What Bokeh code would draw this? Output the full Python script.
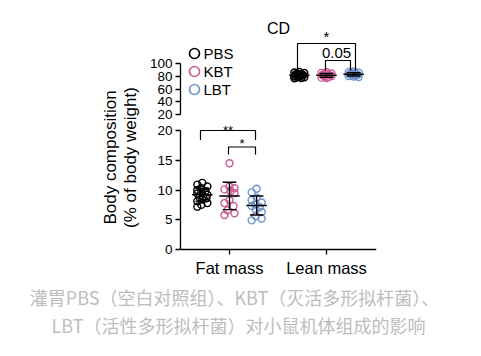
import math
from bokeh.plotting import figure
from bokeh.layouts import row, column
from bokeh.models import Range1d, LinearAxis, FixedTicker
from bokeh.core.properties import value
from bokeh.embed import file_html
from bokeh.resources import INLINE

# ---------------- data ----------------
categories = ["Fat mass", "Lean mass"]
groups = ["PBS", "KBT", "LBT"]
colors = ["#000000", "#cc5a96", "#6b93c8"]

fat_pbs = [11.2, 10.9, 10.6, 10.3, 10.0, 9.8, 9.6, 9.4, 9.2, 9.0, 8.8, 8.6, 8.4, 8.1, 7.8, 7.5, 7.2]
fat_kbt = [14.5, 10.6, 10.3, 10.1, 9.8, 9.5, 8.3, 7.8, 7.3, 6.6, 6.1, 5.8]
fat_lbt = [10.2, 9.6, 8.7, 8.3, 7.9, 7.6, 7.3, 7.1, 6.8, 6.3, 5.6, 5.2, 4.9]
fat_mean = [9.2, 9.0, 7.4]
fat_sd = [1.1, 2.3, 1.6]

lean_pbs = [86.5, 85.5, 84.8, 84.0, 83.2, 82.5, 82.0, 81.5, 81.0, 80.4, 79.8, 79.0, 78.3, 77.6, 77.0, 76.5]
lean_kbt = [86.0, 85.0, 84.0, 83.2, 82.4, 81.6, 80.8, 80.0, 79.2, 78.4, 77.6, 77.0]
lean_lbt = [87.0, 86.2, 85.4, 84.7, 84.0, 83.4, 82.8, 82.2, 81.6, 80.9, 80.2, 79.4, 78.6]
lean_mean = [81.4, 81.3, 82.8]
lean_sd = [3.1, 3.0, 2.6]

low_ticks = [0, 5, 10, 15, 20]
up_ticks = [20, 40, 60, 80, 100]

fat_stars = ["**", "*"]
lean_stars = ["*", "0.05"]
title_text = "CD"
axis_label_lines = ["Body composition", "(% of body weight)"]
caption_lines = ["灌胃PBS（空白对照组）、KBT（灭活多形拟杆菌）、",
                 "LBT（活性多形拟杆菌）对小鼠机体组成的影响"]

# ---------------- layout (page pixels) ----------------
W, H = 481, 356
LABW = 140                 # width of the strip holding the y-axis title
FL, FR = 180, 376          # plot frame left / right
SPLIT = 122                # boundary between upper and lower panels
FB = 255                   # lower frame bottom (x axis at 249)
ROWH = 285                 # height of the chart row; caption below
PX_X = 97.0                # pixels per category
x0 = -(229 - FL) / PX_X
x1 = x0 + (FR - FL) / PX_X
k_low = (249 - 130) / 20.0        # px per unit, lower segment (0 at y=249)
k_up = (114.3 - 62.7) / 80.0      # px per unit, upper segment (20 at y=114.3)
GOFF = 0.28                       # group offset in category units
FONT = "Liberation Sans"
TICK_FS = "13.5px"

low_start = -(FB - 249) / k_low
low_end = low_start + (FB - SPLIT) / k_low
up_start = 20 - (SPLIT - 114.3) / k_up
up_end = up_start + SPLIT / k_up


def X(px):
    return x0 + (px - FL) / PX_X


def YL(py):
    return (249 - py) / k_low


def YU(py):
    return up_start + (SPLIT - py) / k_up


def base_fig(w, h, xr, yr, **kw):
    f = figure(width=w, height=h, output_backend="svg", toolbar_location=None,
               x_range=xr, y_range=yr, x_axis_location=None, y_axis_location=None, **kw)
    f.outline_line_color = None
    f.background_fill_color = "white"
    f.border_fill_color = "white"
    for g in f.grid:
        g.visible = False
    return f


def style_axis(ax, size):
    ax.axis_line_width = 1.3
    ax.major_tick_line_width = 1.3
    ax.major_tick_in = 0
    ax.major_tick_out = 5
    ax.minor_tick_out = 0
    ax.minor_tick_in = 0
    ax.major_label_text_font = FONT
    ax.major_label_text_font_size = size
    ax.major_label_text_color = "black"
    ax.major_label_standoff = 3


def swarm(vals, k, diam, maxoff, step=1.0):
    order = sorted(range(len(vals)), key=lambda i: -vals[i])
    placed = []
    offs = [0.0] * len(vals)
    for n, i in enumerate(order):
        yp = vals[i] * k
        cands = [0.0]
        s = step
        while s <= maxoff + 1e-9:
            cands += [s, -s] if n % 2 == 0 else [-s, s]
            s += step
        best, bestd = 0.0, -1.0
        for c in cands:
            d = min((math.hypot(c - px, yp - py) for px, py in placed), default=1e9)
            if d >= diam:
                best = c
                break
            if d > bestd:
                best, bestd = c, d
        placed.append((best, yp))
        offs[i] = best
    return [o / PX_X for o in offs]


def draw_groups(f, ci, sets, means, sds, k):
    offsets = [-GOFF, 0.0, GOFF]
    for gi in range(3):
        vals = sets[gi]
        xc = ci + offsets[gi]
        jit = swarm(vals, k, 7.0, 5.0)
        f.scatter(x=[xc + j for j in jit], y=vals, marker="circle", size=7,
                  fill_color=None, line_color=colors[gi], line_width=1.4)
        m, sd = means[gi], sds[gi]
        hw, cw = 0.105, 0.07
        f.segment(x0=[xc - hw, xc, xc - cw, xc - cw], y0=[m, m - sd, m + sd, m - sd],
                  x1=[xc + hw, xc, xc + cw, xc + cw], y1=[m, m + sd, m + sd, m - sd],
                  line_color="black", line_width=1.4)


# ---------------- upper panel (20-100) ----------------
top = base_fig(W - LABW, SPLIT, Range1d(x0, x1), Range1d(up_start, up_end),
               min_border_left=FL - LABW, min_border_right=W - FR,
               min_border_top=0, min_border_bottom=0)
ax_up = LinearAxis(ticker=FixedTicker(ticks=up_ticks), bounds=(20, 100))
style_axis(ax_up, TICK_FS)
top.add_layout(ax_up, "left")

draw_groups(top, 1, [lean_pbs, lean_kbt, lean_lbt], lean_mean, lean_sd, k_up)

lx = [X(297), X(355), X(325), X(350)]
top.multi_line(xs=[[lx[0], lx[0], lx[1], lx[1]], [lx[2], lx[2], lx[3], lx[3]]],
               ys=[[YU(70), YU(43), YU(43), YU(70)], [YU(70), YU(60), YU(60), YU(70)]],
               line_color="black", line_width=1.2)
top.text(x=[(lx[0] + lx[1]) / 2, X(336)], y=[YU(36), YU(52)], text=lean_stars,
         text_font=value(FONT), text_font_size=value("15px"), text_align="center",
         text_baseline="middle", text_color="black")
top.text(x=[X(278)], y=[YU(28)], text=[title_text], text_font=value(FONT),
         text_font_size=value("16px"), text_align="center", text_baseline="middle",
         text_color="black")
leg_y = [YU(53), YU(71), YU(89)]
top.scatter(x=[X(194)] * 3, y=leg_y, marker="circle", size=10, fill_color=None,
            line_color=colors, line_width=1.6)
top.text(x=[X(203)] * 3, y=leg_y, text=groups, text_font=value(FONT),
         text_font_size=value("15px"), text_align="left", text_baseline="middle",
         text_color="black")

# ---------------- lower panel (0-20) ----------------
bot = base_fig(W - LABW, ROWH - SPLIT, Range1d(x0, x1), Range1d(low_start, low_end),
               min_border_left=FL - LABW, min_border_right=W - FR,
               min_border_top=0, min_border_bottom=ROWH - FB)
ax_low = LinearAxis(ticker=FixedTicker(ticks=low_ticks), bounds=(0, 20))
style_axis(ax_low, TICK_FS)
bot.add_layout(ax_low, "left")
ax_x = LinearAxis(ticker=FixedTicker(ticks=[0, 1]),
                  major_label_overrides={0: categories[0], 1: categories[1]})
style_axis(ax_x, "16.5px")
ax_x.axis_line_color = None
ax_x.major_tick_line_color = None
ax_x.major_tick_out = 0
ax_x.major_label_standoff = 3
bot.add_layout(ax_x, "below")
# x-axis rule and ticks
bot.segment(x0=[x0, 0, 1], y0=[0, 0, 0], x1=[x1, 0, 1], y1=[0, YL(254), YL(254)],
            line_color="black", line_width=1.3)

draw_groups(bot, 0, [fat_pbs, fat_kbt, fat_lbt], fat_mean, fat_sd, k_low)

bx = [X(200), X(255), X(228), X(255)]
bot.multi_line(xs=[[bx[0], bx[0], bx[1], bx[1]], [bx[2], bx[2], bx[3], bx[3]]],
               ys=[[YL(139.5), YL(130), YL(130), YL(139.5)],
                   [YL(154), YL(146.5), YL(146.5), YL(154)]],
               line_color="black", line_width=1.2)
bot.text(x=[(bx[0] + bx[1]) / 2, (bx[2] + bx[3]) / 2], y=[YL(129.8), YL(142.5)],
         text=fat_stars, text_font=value(FONT), text_font_size=value("13px"),
         text_align="center", text_baseline="middle", text_color="black")

# ---------------- y-axis title strip ----------------
lab = base_fig(LABW, ROWH, Range1d(0, LABW), Range1d(0, ROWH),
               min_border_left=0, min_border_right=0, min_border_top=0, min_border_bottom=0)
lab.text(x=[110, 130], y=[ROWH - 157] * 2, text=axis_label_lines, angle=math.pi / 2,
         text_font=value(FONT), text_font_size=value("17px"), text_align="center",
         text_baseline="middle", text_color="black")

# ---------------- caption ----------------
CAPH = H - ROWH
cap = base_fig(W, CAPH, Range1d(0, W), Range1d(0, CAPH),
               min_border_left=0, min_border_right=0, min_border_top=0, min_border_bottom=0)
cap.text(x=[234, 238], y=[CAPH - (296 - ROWH), CAPH - (324 - ROWH)], text=caption_lines,
         text_font=value("Noto Sans CJK SC"), text_font_size=value("18px"),
         text_align="center", text_baseline="middle", text_color="#bdbdbd")

layout = column(row(lab, column(top, bot, spacing=0), spacing=0), cap, spacing=0)
open("out.html", "w").write(file_html(layout, INLINE))
